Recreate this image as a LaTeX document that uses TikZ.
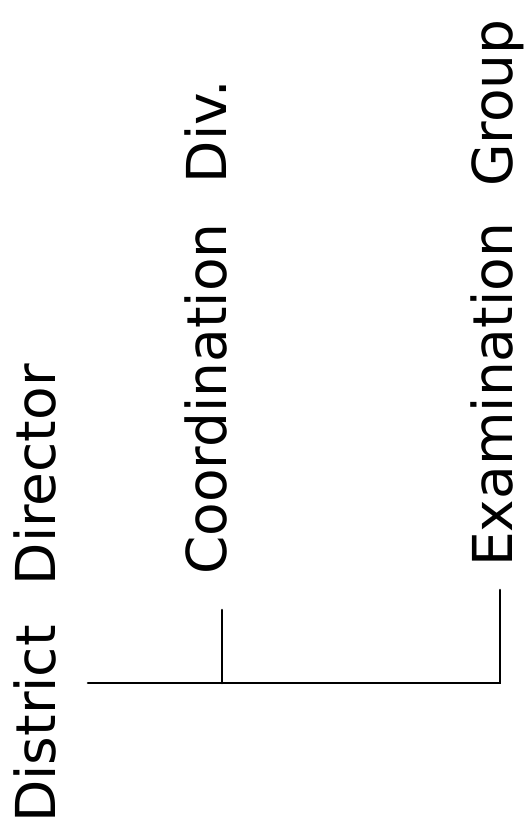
\documentclass[tikz,border=0pt]{standalone}
\usepackage{fontspec}
\setmainfont{DejaVu Sans}
\usetikzlibrary{calc}
\usetikzlibrary{positioning}

\begin{document}
\begin{tikzpicture}
    [%
        x=1pt,y=-1pt,%
        unit name/.style={%
            rotate=90,%
            anchor=base west,%
            inner sep=0pt,%
            font=\fontsize{55}{66}\selectfont%
        },%
        org line/.style={%
            line width=2.6pt,%
            line cap=round%
        }%
    ]%
    \useasboundingbox (0,0) rectangle (530,840);
%
    \node[unit name] (district-director) at (55,823) {District\hspace{40pt}Director};
    \node[unit name] (coordination-div) at (226,575) {Coordination\hspace{40pt}Div.};
    \node[unit name] (examination-group) at (512,567) {Examination\hspace{36pt}Group};
%
    \coordinate (district-director-port) at (88,683);
    \coordinate (coordination-div-port) at (222,610);
    \coordinate (examination-group-port) at (500,590);
    \draw[org line] (district-director-port) -| (examination-group-port);
    \draw[org line] (coordination-div-port) -- (coordination-div-port |- district-director-port);
\end{tikzpicture}
\end{document}
